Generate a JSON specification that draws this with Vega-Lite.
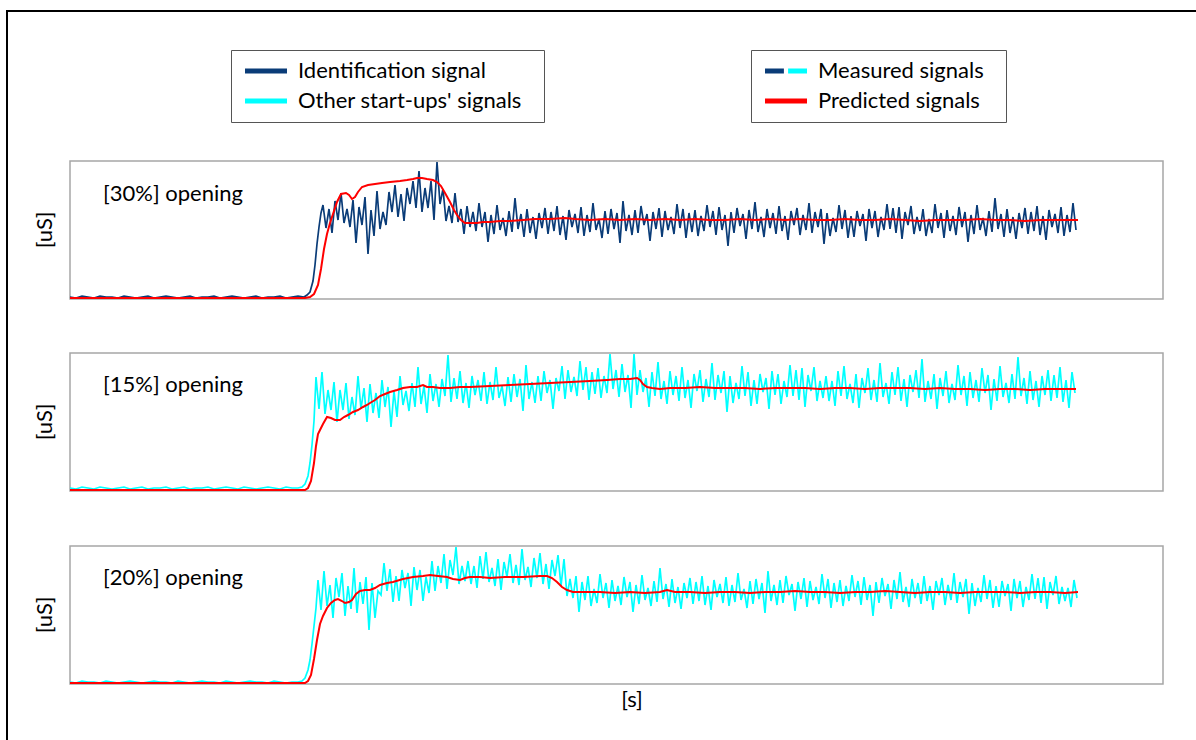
{
  "$schema": "https://vega.github.io/schema/vega-lite/v6.json",
  "width": 1189,
  "height": 729,
  "autosize": {"type": "none"},
  "padding": {"left": 7, "top": 11, "right": 0, "bottom": 0},
  "background": "white",
  "config": {
    "view": {"stroke": null},
    "text": {"font": "Lato", "fontSize": 22, "color": "#000000"}
  },
  "datasets": {
    "m1": [
      {"t":0,"v":2},{"t":6,"v":1},{"t":12,"v":3},{"t":18,"v":2},{"t":24,"v":1},{"t":30,"v":3},{"t":36,"v":2},{"t":42,"v":2},{"t":48,"v":1},{"t":54,"v":3},{"t":60,"v":2},{"t":66,"v":1},{"t":72,"v":2},{"t":78,"v":3},{"t":84,"v":1},{"t":90,"v":2},{"t":96,"v":3},{"t":102,"v":2},{"t":108,"v":1},{"t":114,"v":2},{"t":120,"v":3},{"t":126,"v":1},{"t":132,"v":2},{"t":138,"v":2},{"t":144,"v":3},{"t":150,"v":1},{"t":156,"v":2},{"t":162,"v":3},{"t":168,"v":2},{"t":174,"v":1},{"t":180,"v":2},{"t":186,"v":3},{"t":192,"v":1},{"t":198,"v":2},{"t":204,"v":2},{"t":210,"v":3},{"t":216,"v":1},{"t":222,"v":2},{"t":228,"v":3},{"t":234,"v":2},
      {"t":237,"v":4},{"t":240,"v":7},{"t":243,"v":18},{"t":245,"v":34},{"t":247,"v":55},{"t":249,"v":72},{"t":251,"v":86},
      {"t":253,"v":94},{"t":256,"v":71},{"t":259,"v":90},{"t":262,"v":66},{"t":265,"v":98},{"t":268,"v":79},{"t":271,"v":106},{"t":274,"v":76},{"t":277,"v":90},{"t":280,"v":72},{"t":283,"v":99},{"t":286,"v":56},{"t":289,"v":92},{"t":292,"v":74},{"t":295,"v":102},{"t":298,"v":45},{"t":301,"v":89},{"t":304,"v":63},{"t":307,"v":108},{"t":310,"v":70},{"t":313,"v":87},{"t":316,"v":74},{"t":319,"v":107},{"t":322,"v":87},{"t":325,"v":114},{"t":328,"v":82},{"t":331,"v":105},{"t":334,"v":78},{"t":337,"v":111},{"t":340,"v":95},{"t":343,"v":118},{"t":346,"v":91},{"t":349,"v":128},{"t":352,"v":87},{"t":355,"v":111},{"t":358,"v":91},{"t":361,"v":118},{"t":364,"v":79},{"t":367,"v":137},{"t":370,"v":95},{"t":373,"v":110},{"t":376,"v":78},{"t":379,"v":93},{"t":382,"v":76},{"t":385,"v":106},{"t":388,"v":77},{"t":391,"v":90},{"t":394,"v":65},{"t":397,"v":93},{"t":400,"v":72},{"t":403,"v":87},{"t":406,"v":68},{"t":409,"v":96},{"t":412,"v":72},{"t":415,"v":87},{"t":418,"v":57},{"t":421,"v":84},{"t":424,"v":65},{"t":427,"v":94},{"t":430,"v":69},{"t":433,"v":81},{"t":436,"v":63},{"t":439,"v":88},{"t":442,"v":67},{"t":445,"v":101},{"t":448,"v":70},{"t":451,"v":85},{"t":454,"v":62},{"t":457,"v":90},{"t":460,"v":66},{"t":463,"v":82},{"t":466,"v":60},{"t":469,"v":86},{"t":472,"v":71},{"t":475,"v":91},{"t":478,"v":65},{"t":481,"v":87},{"t":484,"v":68},{"t":487,"v":93},{"t":490,"v":64},{"t":493,"v":83},{"t":496,"v":59},{"t":499,"v":89},{"t":502,"v":72},{"t":505,"v":85},{"t":508,"v":66},{"t":511,"v":92},{"t":514,"v":63},{"t":517,"v":84},{"t":520,"v":67},{"t":523,"v":96},{"t":526,"v":69},{"t":529,"v":80},{"t":532,"v":61},{"t":535,"v":88},{"t":538,"v":65},{"t":541,"v":90},{"t":544,"v":70},{"t":547,"v":86},{"t":550,"v":56},
      {"t":553,"v":98},{"t":556,"v":68},{"t":559,"v":84},{"t":562,"v":64},{"t":565,"v":89},{"t":568,"v":66},{"t":571,"v":93},{"t":574,"v":74},{"t":577,"v":85},{"t":580,"v":58},{"t":583,"v":87},{"t":586,"v":70},{"t":589,"v":91},{"t":592,"v":62},{"t":595,"v":88},{"t":598,"v":69},{"t":601,"v":82},{"t":604,"v":65},{"t":607,"v":95},{"t":610,"v":71},{"t":613,"v":90},{"t":616,"v":61},{"t":619,"v":86},{"t":622,"v":67},{"t":625,"v":89},{"t":628,"v":63},{"t":631,"v":83},{"t":634,"v":68},{"t":637,"v":94},{"t":640,"v":72},{"t":643,"v":88},{"t":646,"v":64},{"t":649,"v":92},{"t":652,"v":69},{"t":655,"v":84},{"t":658,"v":53},{"t":661,"v":87},{"t":664,"v":66},{"t":667,"v":91},{"t":670,"v":73},{"t":673,"v":85},{"t":676,"v":60},{"t":679,"v":89},{"t":682,"v":70},{"t":685,"v":97},{"t":688,"v":67},{"t":691,"v":82},{"t":694,"v":62},{"t":697,"v":90},{"t":700,"v":71},{"t":703,"v":86},{"t":706,"v":65},{"t":709,"v":93},{"t":712,"v":68},{"t":715,"v":83},{"t":718,"v":59},{"t":721,"v":88},{"t":724,"v":74},{"t":727,"v":91},{"t":730,"v":64},{"t":733,"v":84},{"t":736,"v":69},{"t":739,"v":96},{"t":742,"v":66},{"t":745,"v":87},{"t":748,"v":72},{"t":751,"v":90},{"t":754,"v":55},{"t":757,"v":86},{"t":760,"v":63},{"t":763,"v":81},{"t":766,"v":67},{"t":769,"v":94},{"t":772,"v":70},{"t":775,"v":89},{"t":778,"v":61},{"t":781,"v":83},{"t":784,"v":62},{"t":787,"v":88},{"t":790,"v":73},{"t":793,"v":85},{"t":796,"v":58},{"t":799,"v":90},{"t":802,"v":71},{"t":805,"v":88},{"t":808,"v":62},{"t":811,"v":82},{"t":814,"v":69},{"t":817,"v":95},{"t":820,"v":70},{"t":823,"v":91},{"t":826,"v":66},{"t":829,"v":92},{"t":832,"v":60},{"t":835,"v":87},{"t":838,"v":74},{"t":841,"v":93},{"t":844,"v":65},{"t":847,"v":82},{"t":850,"v":68},
      {"t":853,"v":90},{"t":856,"v":63},{"t":859,"v":80},{"t":862,"v":66},{"t":865,"v":95},{"t":868,"v":71},{"t":871,"v":86},{"t":874,"v":61},{"t":877,"v":89},{"t":880,"v":68},{"t":883,"v":83},{"t":886,"v":64},{"t":889,"v":92},{"t":892,"v":72},{"t":895,"v":87},{"t":898,"v":57},{"t":901,"v":84},{"t":904,"v":65},{"t":907,"v":94},{"t":910,"v":69},{"t":913,"v":81},{"t":916,"v":63},{"t":919,"v":88},{"t":922,"v":67},{"t":925,"v":101},{"t":928,"v":70},{"t":931,"v":85},{"t":934,"v":62},{"t":937,"v":90},{"t":940,"v":66},{"t":943,"v":82},{"t":946,"v":60},{"t":949,"v":86},{"t":952,"v":71},{"t":955,"v":91},{"t":958,"v":65},{"t":961,"v":87},{"t":964,"v":68},{"t":967,"v":93},{"t":970,"v":64},{"t":973,"v":83},{"t":976,"v":59},{"t":979,"v":89},{"t":982,"v":72},{"t":985,"v":85},{"t":988,"v":66},{"t":991,"v":92},{"t":994,"v":63},{"t":997,"v":84},{"t":1000,"v":67},{"t":1003,"v":96},{"t":1006,"v":69}
    ],
    "p1": [
      {"t":0,"v":1},{"t":60,"v":1},{"t":120,"v":1},{"t":180,"v":1},{"t":235,"v":1},{"t":240,"v":2},{"t":244,"v":5},{"t":248,"v":14},{"t":251,"v":30},{"t":254,"v":50},{"t":257,"v":65},{"t":260,"v":76},{"t":263,"v":85},{"t":267,"v":97},{"t":271,"v":105},{"t":276,"v":106},{"t":279,"v":104},{"t":282,"v":100},{"t":285,"v":102},{"t":288,"v":107},{"t":292,"v":112},{"t":298,"v":114},{"t":305,"v":115},{"t":312,"v":116},{"t":320,"v":117},{"t":330,"v":118},{"t":337,"v":119},{"t":343,"v":120},{"t":347,"v":121},{"t":352,"v":121},{"t":357,"v":120},{"t":363,"v":119},{"t":367,"v":117},{"t":371,"v":113},{"t":375,"v":106},{"t":380,"v":97},{"t":384,"v":89},{"t":387,"v":84},{"t":391,"v":79},{"t":395,"v":76},{"t":400,"v":76},{"t":407,"v":76},{"t":413,"v":77},{"t":420,"v":77},{"t":430,"v":78},{"t":440,"v":78},{"t":453,"v":79},{"t":465,"v":80},{"t":480,"v":80},{"t":495,"v":81},{"t":505,"v":80},{"t":520,"v":79},{"t":535,"v":80},{"t":550,"v":79},{"t":565,"v":80},{"t":580,"v":79},{"t":595,"v":80},{"t":610,"v":79},{"t":625,"v":80},{"t":640,"v":79},{"t":655,"v":79},{"t":670,"v":80},{"t":685,"v":79},{"t":700,"v":80},{"t":715,"v":79},{"t":730,"v":80},{"t":745,"v":79},{"t":760,"v":79},{"t":775,"v":80},{"t":790,"v":79},{"t":805,"v":79},{"t":820,"v":80},{"t":835,"v":79},{"t":850,"v":78},{"t":865,"v":79},{"t":880,"v":79},{"t":895,"v":79},{"t":910,"v":80},{"t":925,"v":79},{"t":940,"v":79},{"t":955,"v":78},{"t":970,"v":79},{"t":985,"v":79},{"t":1000,"v":79},{"t":1008,"v":79}
    ],
    "m2": [
      {"t":0,"v":3},{"t":6,"v":2},{"t":12,"v":4},{"t":18,"v":3},{"t":24,"v":2},{"t":30,"v":4},{"t":36,"v":3},{"t":42,"v":2},{"t":48,"v":3},{"t":54,"v":4},{"t":60,"v":2},{"t":66,"v":3},{"t":72,"v":4},{"t":78,"v":2},{"t":84,"v":3},{"t":90,"v":3},{"t":96,"v":4},{"t":102,"v":2},{"t":108,"v":3},{"t":114,"v":4},{"t":120,"v":2},{"t":126,"v":3},{"t":132,"v":3},{"t":138,"v":4},{"t":144,"v":2},{"t":150,"v":3},{"t":156,"v":4},{"t":162,"v":3},{"t":168,"v":2},{"t":174,"v":4},{"t":180,"v":3},{"t":186,"v":2},{"t":192,"v":3},{"t":198,"v":4},{"t":204,"v":3},{"t":210,"v":2},{"t":216,"v":4},{"t":222,"v":3},{"t":228,"v":3},
      {"t":232,"v":4},{"t":235,"v":7},{"t":238,"v":15},{"t":240,"v":28},{"t":242,"v":46},{"t":244,"v":70},
      {"t":246,"v":114},{"t":249,"v":82},{"t":252,"v":119},{"t":255,"v":77},{"t":258,"v":101},{"t":261,"v":81},{"t":264,"v":109},{"t":267,"v":69},{"t":270,"v":101},{"t":273,"v":81},{"t":276,"v":108},{"t":279,"v":72},{"t":282,"v":94},{"t":285,"v":76},{"t":288,"v":115},{"t":291,"v":82},{"t":294,"v":103},{"t":297,"v":69},{"t":300,"v":107},{"t":303,"v":78},{"t":306,"v":98},{"t":309,"v":73},{"t":312,"v":111},{"t":315,"v":84},{"t":318,"v":104},{"t":321,"v":64},{"t":324,"v":100},{"t":327,"v":74},{"t":330,"v":115},{"t":333,"v":86},{"t":336,"v":100},{"t":339,"v":80},{"t":342,"v":108},{"t":345,"v":84},{"t":348,"v":124},{"t":351,"v":87},{"t":354,"v":105},{"t":357,"v":78},{"t":360,"v":117},{"t":363,"v":90},{"t":366,"v":107},{"t":369,"v":84},{"t":372,"v":112},{"t":375,"v":95},{"t":378,"v":136},{"t":381,"v":89},{"t":384,"v":113},{"t":387,"v":92},{"t":390,"v":120},{"t":393,"v":88},{"t":396,"v":108},{"t":399,"v":83},{"t":402,"v":115},{"t":405,"v":96},{"t":408,"v":111},{"t":411,"v":90},{"t":414,"v":119},{"t":417,"v":87},{"t":420,"v":109},{"t":423,"v":91},{"t":426,"v":124},{"t":429,"v":93},{"t":432,"v":105},{"t":435,"v":85},{"t":438,"v":114},{"t":441,"v":89},{"t":444,"v":117},{"t":447,"v":94},{"t":450,"v":112},{"t":453,"v":80},
      {"t":456,"v":126},{"t":459,"v":92},{"t":462,"v":109},{"t":465,"v":88},{"t":468,"v":115},{"t":471,"v":90},{"t":474,"v":120},{"t":477,"v":98},{"t":480,"v":111},{"t":483,"v":82},{"t":486,"v":113},{"t":489,"v":100},{"t":492,"v":125},{"t":495,"v":92},{"t":498,"v":121},{"t":501,"v":99},{"t":504,"v":114},{"t":507,"v":95},{"t":510,"v":130},{"t":513,"v":101},{"t":516,"v":124},{"t":519,"v":91},{"t":522,"v":119},{"t":525,"v":97},{"t":528,"v":123},{"t":531,"v":93},{"t":534,"v":115},{"t":537,"v":98},{"t":540,"v":137},{"t":543,"v":102},{"t":546,"v":121},{"t":549,"v":94},{"t":552,"v":127},{"t":555,"v":99},{"t":558,"v":116},{"t":561,"v":83},{"t":564,"v":137},{"t":567,"v":96},{"t":570,"v":121},{"t":573,"v":99},{"t":576,"v":113},{"t":579,"v":84},{"t":582,"v":119},{"t":585,"v":95},{"t":588,"v":129},{"t":591,"v":92},{"t":594,"v":110},{"t":597,"v":87},{"t":600,"v":120},{"t":603,"v":96},{"t":606,"v":115},{"t":609,"v":90},{"t":612,"v":124},{"t":615,"v":93},{"t":618,"v":111},{"t":621,"v":83},{"t":624,"v":117},{"t":627,"v":100},{"t":630,"v":121},{"t":633,"v":89},{"t":636,"v":112},{"t":639,"v":94},{"t":642,"v":128},{"t":645,"v":91},{"t":648,"v":116},{"t":651,"v":98},{"t":654,"v":120},{"t":657,"v":79},{"t":660,"v":115},{"t":663,"v":88},{"t":666,"v":108},{"t":669,"v":92},{"t":672,"v":125},{"t":675,"v":95},{"t":678,"v":119},{"t":681,"v":85},{"t":684,"v":111},{"t":687,"v":87},{"t":690,"v":117},{"t":693,"v":99},{"t":696,"v":113},{"t":699,"v":82},{"t":702,"v":120},{"t":705,"v":96},{"t":708,"v":117},{"t":711,"v":87},{"t":714,"v":110},{"t":717,"v":94},{"t":720,"v":126},{"t":723,"v":95},{"t":726,"v":121},{"t":729,"v":91},{"t":732,"v":123},{"t":735,"v":84},{"t":738,"v":116},{"t":741,"v":100},{"t":744,"v":124},{"t":747,"v":90},{"t":750,"v":110},{"t":753,"v":93},
      {"t":756,"v":115},{"t":759,"v":90},{"t":762,"v":110},{"t":765,"v":85},{"t":768,"v":120},{"t":771,"v":95},{"t":774,"v":125},{"t":777,"v":92},{"t":780,"v":107},{"t":783,"v":88},{"t":786,"v":117},{"t":789,"v":83},{"t":792,"v":113},{"t":795,"v":98},{"t":798,"v":123},{"t":801,"v":91},{"t":804,"v":111},{"t":807,"v":89},{"t":810,"v":128},{"t":813,"v":94},{"t":816,"v":108},{"t":819,"v":87},{"t":822,"v":119},{"t":825,"v":96},{"t":828,"v":124},{"t":831,"v":90},{"t":834,"v":112},{"t":837,"v":84},{"t":840,"v":116},{"t":843,"v":99},{"t":846,"v":121},{"t":849,"v":93},{"t":852,"v":132},{"t":855,"v":89},{"t":858,"v":110},{"t":861,"v":92},{"t":864,"v":117},{"t":867,"v":82},{"t":870,"v":113},{"t":873,"v":95},{"t":876,"v":120},{"t":879,"v":88},{"t":882,"v":107},{"t":885,"v":91},{"t":888,"v":126},{"t":891,"v":96},{"t":894,"v":115},{"t":897,"v":85},{"t":900,"v":119},{"t":903,"v":93},{"t":906,"v":111},{"t":909,"v":89},{"t":912,"v":123},{"t":915,"v":98},{"t":918,"v":116},{"t":921,"v":81},{"t":924,"v":112},{"t":927,"v":90},{"t":930,"v":125},{"t":933,"v":94},{"t":936,"v":108},{"t":939,"v":88},{"t":942,"v":117},{"t":945,"v":92},{"t":948,"v":134},{"t":951,"v":95},{"t":954,"v":113},{"t":957,"v":87},{"t":960,"v":120},{"t":963,"v":91},{"t":966,"v":110},{"t":969,"v":84},{"t":972,"v":115},{"t":975,"v":96},{"t":978,"v":121},{"t":981,"v":90},{"t":984,"v":116},{"t":987,"v":93},{"t":990,"v":124},{"t":993,"v":89},{"t":996,"v":111},{"t":999,"v":83},{"t":1002,"v":119},{"t":1005,"v":98}
    ],
    "p2": [
      {"t":0,"v":1},{"t":60,"v":1},{"t":120,"v":1},{"t":180,"v":1},{"t":235,"v":1},{"t":238,"v":3},{"t":241,"v":10},{"t":244,"v":28},{"t":246,"v":45},{"t":248,"v":57},{"t":250,"v":61},{"t":253,"v":67},{"t":257,"v":74},{"t":261,"v":73},{"t":265,"v":71},{"t":270,"v":71},{"t":274,"v":74},{"t":278,"v":76},{"t":283,"v":79},{"t":288,"v":81},{"t":293,"v":84},{"t":297,"v":86},{"t":300,"v":88},{"t":305,"v":91},{"t":310,"v":95},{"t":315,"v":97},{"t":320,"v":99},{"t":327,"v":101},{"t":333,"v":103},{"t":340,"v":104},{"t":347,"v":104},{"t":353,"v":106},{"t":357,"v":104},{"t":363,"v":104},{"t":370,"v":103},{"t":380,"v":103},{"t":390,"v":104},{"t":400,"v":104},{"t":420,"v":105},{"t":440,"v":106},{"t":460,"v":107},{"t":480,"v":108},{"t":500,"v":109},{"t":520,"v":110},{"t":537,"v":111},{"t":550,"v":112},{"t":560,"v":112},{"t":567,"v":113},{"t":570,"v":111},{"t":573,"v":107},{"t":577,"v":104},{"t":582,"v":103},{"t":590,"v":102},{"t":600,"v":103},{"t":615,"v":103},{"t":630,"v":104},{"t":645,"v":103},{"t":660,"v":103},{"t":675,"v":103},{"t":690,"v":102},{"t":705,"v":103},{"t":720,"v":103},{"t":735,"v":103},{"t":750,"v":102},{"t":765,"v":103},{"t":780,"v":103},{"t":795,"v":102},{"t":810,"v":103},{"t":825,"v":103},{"t":840,"v":103},{"t":855,"v":102},{"t":870,"v":103},{"t":885,"v":102},{"t":900,"v":102},{"t":915,"v":101},{"t":930,"v":102},{"t":945,"v":102},{"t":960,"v":101},{"t":975,"v":102},{"t":990,"v":102},{"t":1006,"v":102}
    ],
    "m3": [
      {"t":0,"v":2},{"t":6,"v":1},{"t":12,"v":3},{"t":18,"v":2},{"t":24,"v":2},{"t":30,"v":1},{"t":36,"v":3},{"t":42,"v":2},{"t":48,"v":1},{"t":54,"v":2},{"t":60,"v":3},{"t":66,"v":2},{"t":72,"v":1},{"t":78,"v":2},{"t":84,"v":3},{"t":90,"v":2},{"t":96,"v":2},{"t":102,"v":1},{"t":108,"v":3},{"t":114,"v":2},{"t":120,"v":1},{"t":126,"v":2},{"t":132,"v":3},{"t":138,"v":2},{"t":144,"v":2},{"t":150,"v":1},{"t":156,"v":3},{"t":162,"v":2},{"t":168,"v":1},{"t":174,"v":2},{"t":180,"v":3},{"t":186,"v":2},{"t":192,"v":2},{"t":198,"v":1},{"t":204,"v":3},{"t":210,"v":2},{"t":216,"v":1},{"t":222,"v":2},{"t":228,"v":2},
      {"t":232,"v":3},{"t":235,"v":6},{"t":238,"v":14},{"t":240,"v":24},{"t":242,"v":40},{"t":244,"v":58},{"t":246,"v":76},
      {"t":248,"v":104},{"t":251,"v":74},{"t":254,"v":113},{"t":257,"v":78},{"t":260,"v":99},{"t":263,"v":66},{"t":266,"v":106},{"t":269,"v":87},{"t":272,"v":111},{"t":275,"v":68},{"t":278,"v":98},{"t":281,"v":75},{"t":284,"v":116},{"t":287,"v":71},{"t":290,"v":102},{"t":293,"v":80},{"t":296,"v":107},{"t":299,"v":54},{"t":302,"v":101},{"t":305,"v":66},{"t":308,"v":93},{"t":311,"v":89},{"t":314,"v":121},{"t":317,"v":93},{"t":320,"v":115},{"t":323,"v":82},{"t":326,"v":108},{"t":329,"v":83},{"t":332,"v":114},{"t":335,"v":96},{"t":338,"v":111},{"t":341,"v":78},{"t":344,"v":117},{"t":347,"v":94},{"t":350,"v":114},{"t":353,"v":83},{"t":356,"v":107},{"t":359,"v":91},{"t":362,"v":123},{"t":365,"v":93},{"t":368,"v":118},{"t":371,"v":101},{"t":374,"v":130},{"t":377,"v":95},{"t":380,"v":124},{"t":383,"v":109},{"t":386,"v":137},{"t":389,"v":100},{"t":392,"v":118},{"t":395,"v":103},
      {"t":398,"v":123},{"t":401,"v":100},{"t":404,"v":118},{"t":407,"v":96},{"t":410,"v":128},{"t":413,"v":105},{"t":416,"v":132},{"t":419,"v":102},{"t":422,"v":116},{"t":425,"v":98},{"t":428,"v":125},{"t":431,"v":94},{"t":434,"v":122},{"t":437,"v":107},{"t":440,"v":130},{"t":443,"v":101},{"t":446,"v":119},{"t":449,"v":99},{"t":452,"v":135},{"t":455,"v":104},{"t":458,"v":117},{"t":461,"v":97},{"t":464,"v":126},{"t":467,"v":106},{"t":470,"v":131},{"t":473,"v":100},{"t":476,"v":120},{"t":479,"v":95},{"t":482,"v":124},{"t":485,"v":108},{"t":488,"v":129},{"t":491,"v":98},{"t":494,"v":125},{"t":497,"v":88},{"t":500,"v":105},{"t":503,"v":86},{"t":506,"v":108},{"t":509,"v":72},{"t":512,"v":102},{"t":515,"v":84},{"t":518,"v":108},{"t":521,"v":78},{"t":524,"v":95},{"t":527,"v":81},{"t":530,"v":110},{"t":533,"v":86},{"t":536,"v":101},{"t":539,"v":76},{"t":542,"v":104},{"t":545,"v":83},{"t":548,"v":98},{"t":551,"v":79},{"t":554,"v":107},{"t":557,"v":87},{"t":560,"v":102},{"t":563,"v":72},{"t":566,"v":99},{"t":569,"v":80},{"t":572,"v":109},{"t":575,"v":84},{"t":578,"v":96},{"t":581,"v":78},{"t":584,"v":103},{"t":587,"v":82},{"t":590,"v":116},{"t":593,"v":85},{"t":596,"v":100},{"t":599,"v":77},{"t":602,"v":105},{"t":605,"v":81},{"t":608,"v":97},{"t":611,"v":75},{"t":614,"v":101},{"t":617,"v":86},{"t":620,"v":106},{"t":623,"v":80},{"t":626,"v":102},{"t":629,"v":83},{"t":632,"v":108},{"t":635,"v":79},{"t":638,"v":98},{"t":641,"v":74},{"t":644,"v":104},{"t":647,"v":87},{"t":650,"v":100},{"t":653,"v":81},{"t":656,"v":107},{"t":659,"v":78},{"t":662,"v":99},{"t":665,"v":82},{"t":668,"v":111},{"t":671,"v":84},{"t":674,"v":95},{"t":677,"v":76},{"t":680,"v":103},{"t":683,"v":80},{"t":686,"v":105},{"t":689,"v":85},{"t":692,"v":101},{"t":695,"v":71},
      {"t":698,"v":113},{"t":701,"v":83},{"t":704,"v":99},{"t":707,"v":79},{"t":710,"v":104},{"t":713,"v":81},{"t":716,"v":108},{"t":719,"v":89},{"t":722,"v":100},{"t":725,"v":73},{"t":728,"v":102},{"t":731,"v":85},{"t":734,"v":106},{"t":737,"v":77},{"t":740,"v":103},{"t":743,"v":84},{"t":746,"v":97},{"t":749,"v":80},{"t":752,"v":110},{"t":755,"v":86},{"t":758,"v":105},{"t":761,"v":76},{"t":764,"v":101},{"t":767,"v":82},{"t":770,"v":104},{"t":773,"v":78},{"t":776,"v":98},{"t":779,"v":83},{"t":782,"v":109},{"t":785,"v":87},{"t":788,"v":103},{"t":791,"v":79},{"t":794,"v":107},{"t":797,"v":84},{"t":800,"v":99},{"t":803,"v":68},{"t":806,"v":102},{"t":809,"v":81},{"t":812,"v":106},{"t":815,"v":88},{"t":818,"v":100},{"t":821,"v":75},{"t":824,"v":104},{"t":827,"v":85},{"t":830,"v":112},{"t":833,"v":82},{"t":836,"v":97},{"t":839,"v":77},{"t":842,"v":105},{"t":845,"v":86},{"t":848,"v":101},{"t":851,"v":80},{"t":854,"v":108},{"t":857,"v":83},{"t":860,"v":98},{"t":863,"v":74},{"t":866,"v":103},{"t":869,"v":89},{"t":872,"v":106},{"t":875,"v":79},{"t":878,"v":99},{"t":881,"v":84},{"t":884,"v":111},{"t":887,"v":81},{"t":890,"v":102},{"t":893,"v":87},{"t":896,"v":105},{"t":899,"v":70},{"t":902,"v":101},{"t":905,"v":78},{"t":908,"v":96},{"t":911,"v":82},{"t":914,"v":109},{"t":917,"v":85},{"t":920,"v":104},{"t":923,"v":76},{"t":926,"v":98},{"t":929,"v":77},{"t":932,"v":103},{"t":935,"v":88},{"t":938,"v":100},{"t":941,"v":73},{"t":944,"v":105},{"t":947,"v":86},{"t":950,"v":103},{"t":953,"v":77},{"t":956,"v":97},{"t":959,"v":84},{"t":962,"v":110},{"t":965,"v":85},{"t":968,"v":106},{"t":971,"v":81},{"t":974,"v":107},{"t":977,"v":75},{"t":980,"v":102},{"t":983,"v":89},{"t":986,"v":108},{"t":989,"v":80},{"t":992,"v":97},{"t":995,"v":83},{"t":998,"v":96},{"t":1001,"v":77},{"t":1004,"v":104},{"t":1007,"v":86}
    ],
    "p3": [
      {"t":0,"v":1},{"t":60,"v":1},{"t":120,"v":1},{"t":180,"v":1},{"t":235,"v":1},{"t":238,"v":3},{"t":241,"v":9},{"t":244,"v":25},{"t":247,"v":44},{"t":250,"v":60},{"t":253,"v":68},{"t":257,"v":76},{"t":261,"v":81},{"t":265,"v":84},{"t":268,"v":85},{"t":272,"v":83},{"t":275,"v":81},{"t":279,"v":82},{"t":282,"v":84},{"t":286,"v":90},{"t":290,"v":93},{"t":295,"v":94},{"t":300,"v":94},{"t":305,"v":96},{"t":310,"v":99},{"t":317,"v":101},{"t":323,"v":102},{"t":333,"v":105},{"t":343,"v":107},{"t":353,"v":108},{"t":360,"v":109},{"t":368,"v":108},{"t":377,"v":107},{"t":383,"v":105},{"t":390,"v":104},{"t":395,"v":106},{"t":400,"v":107},{"t":410,"v":107},{"t":420,"v":106},{"t":435,"v":107},{"t":453,"v":107},{"t":470,"v":108},{"t":477,"v":108},{"t":482,"v":106},{"t":487,"v":102},{"t":492,"v":97},{"t":497,"v":94},{"t":503,"v":92},{"t":515,"v":92},{"t":530,"v":92},{"t":545,"v":91},{"t":560,"v":92},{"t":575,"v":91},{"t":590,"v":92},{"t":597,"v":94},{"t":605,"v":92},{"t":620,"v":92},{"t":635,"v":91},{"t":650,"v":92},{"t":665,"v":92},{"t":680,"v":91},{"t":695,"v":92},{"t":710,"v":92},{"t":725,"v":93},{"t":740,"v":92},{"t":755,"v":92},{"t":770,"v":91},{"t":785,"v":92},{"t":800,"v":92},{"t":815,"v":93},{"t":830,"v":92},{"t":845,"v":91},{"t":860,"v":92},{"t":875,"v":92},{"t":890,"v":91},{"t":905,"v":92},{"t":920,"v":92},{"t":935,"v":92},{"t":950,"v":91},{"t":965,"v":92},{"t":980,"v":92},{"t":995,"v":91},{"t":1008,"v":92}
    ]
  },
  "layer": [
    {
      "layer": [
        {
          "data": {"values": [{}]},
          "mark": {"type": "rect", "fillOpacity": 0, "stroke": "#000000", "strokeWidth": 2},
          "encoding": {
            "x": {"datum": -63, "type": "quantitative", "scale": {"domain": [0, 1093], "range": [63, 1156], "nice": false, "zero": false}, "axis": null},
            "x2": {"datum": 1300},
            "y": {"datum": 288, "type": "quantitative", "scale": {"domain": [0, 138], "range": [288, 150], "nice": false, "zero": false}, "axis": null},
            "y2": {"datum": -700}
          }
        },
        {
          "data": {"values": [{}]},
          "mark": {"type": "rect", "fill": "#ffffff", "stroke": "#a6a6a6", "strokeWidth": 1.5},
          "encoding": {
            "x": {"datum": 0, "type": "quantitative", "axis": null},
            "x2": {"datum": 1093},
            "y": {"datum": 0, "type": "quantitative", "axis": null},
            "y2": {"datum": 138}
          }
        },
        {
          "data": {"name": "m1"},
          "mark": {"type": "line", "strokeWidth": 1.7},
          "encoding": {
            "x": {"field": "t", "type": "quantitative", "axis": null},
            "y": {"field": "v", "type": "quantitative", "axis": null},
            "color": {
              "datum": "Identification signal",
              "type": "nominal",
              "scale": {"domain": ["Identification signal", "Other start-ups' signals"], "range": ["#0a3c78", "#00ffff"]},
              "legend": {
                "orient": "none", "legendX": 224, "legendY": 39, "direction": "vertical",
                "title": " ", "titleOrient": "right", "titleFontSize": 1, "titlePadding": 14,
                "strokeColor": "#555555", "fillColor": "#ffffff", "padding": 8, "rowPadding": 4, "clipHeight": 26,
                "labelFont": "Lato", "labelFontSize": 22, "labelColor": "#000000", "labelOffset": 11, "labelLimit": 400,
                "symbolType": "M-1,-0.12H1V0.12H-1Z", "symbolSize": 1764, "symbolOffset": 6, "symbolStrokeWidth": 0,
                "encode": {
                  "symbols": {
                    "update": {
                      "fill": [{"test": "datum.value === 'Identification signal'", "value": "#0a3c78"}, {"value": "#00ffff"}],
                      "stroke": {"value": "transparent"},
                      "strokeWidth": {"value": 0}
                    }
                  }
                }
              }
            }
          }
        },
        {
          "data": {"name": "p1"},
          "mark": {"type": "line", "strokeWidth": 2},
          "encoding": {
            "x": {"field": "t", "type": "quantitative", "axis": null},
            "y": {"field": "v", "type": "quantitative", "axis": null},
            "stroke": {
              "datum": "Predicted signals",
              "type": "nominal",
              "scale": {"domain": ["Measured signals", "Predicted signals"], "range": ["#0a3c78", "#ff0000"]},
              "legend": {
                "orient": "none", "legendX": 744, "legendY": 39, "direction": "vertical",
                "title": " ", "titleOrient": "right", "titleFontSize": 1, "titlePadding": 14,
                "strokeColor": "#555555", "fillColor": "#ffffff", "padding": 8, "rowPadding": 4, "clipHeight": 26,
                "labelFont": "Lato", "labelFontSize": 22, "labelColor": "#000000", "labelOffset": 11, "labelLimit": 400,
                "symbolType": "M-1,-0.12H1V0.12H-1Z", "symbolSize": 1764, "symbolOffset": 6, "symbolStrokeWidth": 0,
                "encode": {
                  "symbols": {
                    "update": {
                      "fill": [
                        {"test": "datum.value === 'Measured signals'", "value": {"gradient": "linear", "x1": 0, "y1": 0, "x2": 1, "y2": 0, "stops": [{"offset": 0, "color": "#0a3c78"}, {"offset": 0.5, "color": "#0a3c78"}, {"offset": 0.5, "color": "#00ffff"}, {"offset": 1, "color": "#00ffff"}]}},
                        {"value": "#ff0000"}
                      ],
                      "shape": [
                        {"test": "datum.value === 'Measured signals'", "value": "M-1,-0.12H-0.1V0.12H-1ZM0.1,-0.12H1V0.12H0.1Z"},
                        {"value": "M-1,-0.12H1V0.12H-1Z"}
                      ],
                      "stroke": {"value": "transparent"},
                      "strokeWidth": {"value": 0}
                    }
                  }
                }
              }
            }
          }
        },
        {
          "data": {"values": [{}]},
          "mark": {"type": "text", "text": "[30%] opening", "align": "left", "baseline": "middle", "font": "Lato", "fontSize": 22},
          "encoding": {
            "x": {"datum": 33, "type": "quantitative"},
            "y": {"datum": 105, "type": "quantitative"}
          }
        },
        {
          "data": {"values": [{}]},
          "mark": {"type": "text", "text": "[uS]", "angle": 270, "align": "center", "baseline": "middle", "font": "Lato", "fontSize": 22},
          "encoding": {
            "x": {"datum": -25, "type": "quantitative"},
            "y": {"datum": 69, "type": "quantitative"}
          }
        }
      ]
    },
    {
      "layer": [
        {
          "data": {"values": [{}]},
          "mark": {"type": "rect", "fill": "#ffffff", "stroke": "#a6a6a6", "strokeWidth": 1.5},
          "encoding": {
            "x": {"datum": 0, "type": "quantitative", "axis": null},
            "x2": {"datum": 1093},
            "y": {"datum": 0, "type": "quantitative", "scale": {"domain": [0, 138], "range": [480, 342], "nice": false, "zero": false}, "axis": null},
            "y2": {"datum": 138}
          }
        },
        {
          "data": {"name": "m2"},
          "mark": {"type": "line", "strokeWidth": 1.7},
          "encoding": {
            "x": {"field": "t", "type": "quantitative", "axis": null},
            "y": {"field": "v", "type": "quantitative", "axis": null},
            "color": {"datum": "Other start-ups' signals", "type": "nominal"}
          }
        },
        {
          "data": {"name": "p2"},
          "mark": {"type": "line", "strokeWidth": 2},
          "encoding": {
            "x": {"field": "t", "type": "quantitative", "axis": null},
            "y": {"field": "v", "type": "quantitative", "axis": null},
            "stroke": {"datum": "Predicted signals", "type": "nominal"}
          }
        },
        {
          "data": {"values": [{}]},
          "mark": {"type": "text", "text": "[15%] opening", "align": "left", "baseline": "middle", "font": "Lato", "fontSize": 22},
          "encoding": {
            "x": {"datum": 33, "type": "quantitative"},
            "y": {"datum": 106, "type": "quantitative"}
          }
        },
        {
          "data": {"values": [{}]},
          "mark": {"type": "text", "text": "[uS]", "angle": 270, "align": "center", "baseline": "middle", "font": "Lato", "fontSize": 22},
          "encoding": {
            "x": {"datum": -25, "type": "quantitative"},
            "y": {"datum": 69, "type": "quantitative"}
          }
        }
      ]
    },
    {
      "layer": [
        {
          "data": {"values": [{}]},
          "mark": {"type": "rect", "fill": "#ffffff", "stroke": "#a6a6a6", "strokeWidth": 1.5},
          "encoding": {
            "x": {"datum": 0, "type": "quantitative", "axis": null},
            "x2": {"datum": 1093},
            "y": {"datum": 0, "type": "quantitative", "scale": {"domain": [0, 138], "range": [673, 535], "nice": false, "zero": false}, "axis": null},
            "y2": {"datum": 138}
          }
        },
        {
          "data": {"name": "m3"},
          "mark": {"type": "line", "strokeWidth": 1.7},
          "encoding": {
            "x": {"field": "t", "type": "quantitative", "axis": null},
            "y": {"field": "v", "type": "quantitative", "axis": null},
            "color": {"datum": "Other start-ups' signals", "type": "nominal"}
          }
        },
        {
          "data": {"name": "p3"},
          "mark": {"type": "line", "strokeWidth": 2},
          "encoding": {
            "x": {"field": "t", "type": "quantitative", "axis": null},
            "y": {"field": "v", "type": "quantitative", "axis": null},
            "stroke": {"datum": "Predicted signals", "type": "nominal"}
          }
        },
        {
          "data": {"values": [{}]},
          "mark": {"type": "text", "text": "[20%] opening", "align": "left", "baseline": "middle", "font": "Lato", "fontSize": 22},
          "encoding": {
            "x": {"datum": 33, "type": "quantitative"},
            "y": {"datum": 106, "type": "quantitative"}
          }
        },
        {
          "data": {"values": [{}]},
          "mark": {"type": "text", "text": "[uS]", "angle": 270, "align": "center", "baseline": "middle", "font": "Lato", "fontSize": 22},
          "encoding": {
            "x": {"datum": -25, "type": "quantitative"},
            "y": {"datum": 69, "type": "quantitative"}
          }
        },
        {
          "data": {"values": [{}]},
          "mark": {"type": "text", "text": "[s]", "align": "center", "baseline": "middle", "font": "Lato", "fontSize": 22},
          "encoding": {
            "x": {"datum": 562, "type": "quantitative"},
            "y": {"datum": -16, "type": "quantitative"}
          }
        }
      ]
    }
  ],
  "resolve": {"scale": {"y": "independent"}}
}
